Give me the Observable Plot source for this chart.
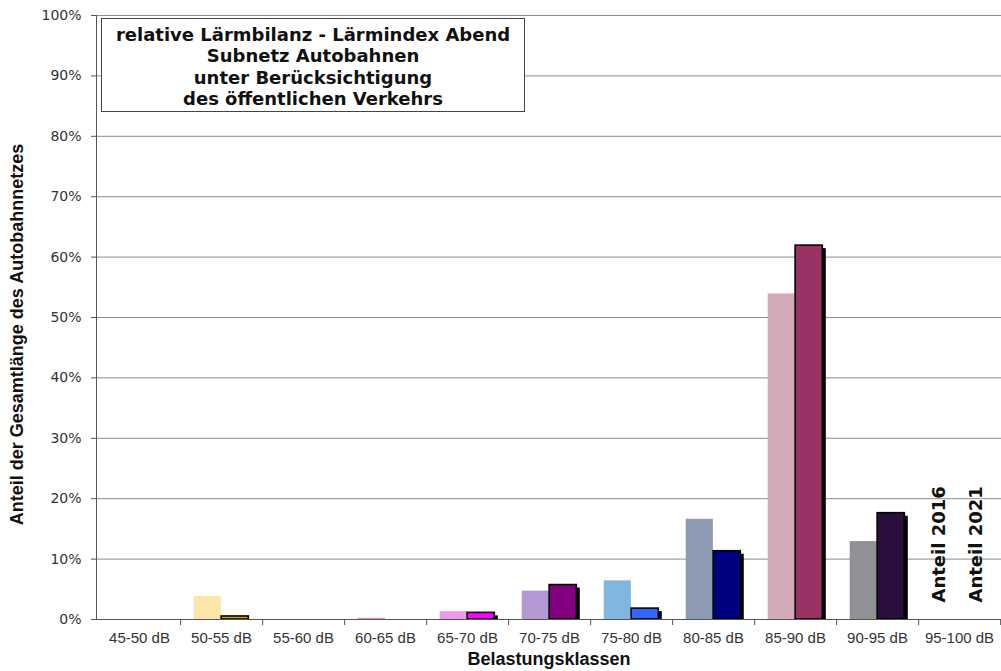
<!DOCTYPE html>
<html>
<head>
<meta charset="utf-8">
<script src="https://cdn.jsdelivr.net/npm/d3@7"></script>
<script src="https://cdn.jsdelivr.net/npm/@observablehq/plot@0.6"></script>
<style>
  body { margin: 0; background: #fff; }
  #chart { position: relative; width: 1001px; height: 671px; }
  #title {
    position: absolute; left: 101px; top: 18px; width: 422px;
    border: 1px solid #444; background: #fff; box-sizing: content-box;
    font: bold 18px "DejaVu Sans", Verdana, sans-serif; color: #111;
    text-align: center; line-height: 21.3px; padding-top: 5px; height: 87px;
  }
</style>
</head>
<body>
<div id="chart">
  <div id="title">relative Lärmbilanz - Lärmindex Abend<br>Subnetz Autobahnen<br>unter Berücksichtigung<br>des öffentlichen Verkehrs</div>
</div>
<script>
// Noise classes (Belastungsklassen) on the motorway sub-network
const categories = ["45-50 dB", "50-55 dB", "55-60 dB", "60-65 dB", "65-70 dB", "70-75 dB",
                    "75-80 dB", "80-85 dB", "85-90 dB", "90-95 dB", "95-100 dB"];
// Share of total motorway length, in percent
const share2016 = [0, 3.8, 0, 0.2, 1.3, 4.7, 6.4, 16.6, 53.9, 12.9, 0];
const share2021 = [0, 0.5, 0, 0, 1.1, 5.7, 1.8, 11.3, 61.9, 17.6, 0];
// Class colours: pale tone for 2016, saturated tone for 2021
const colors2016 = ["#f4d9a6", "#fbe6a8", "#d8d8d8", "#e39a9a", "#ee99ee", "#b399d4",
                    "#80b6df", "#8f9bb3", "#d4aaba", "#8f9195", "#d0d0d0"];
const colors2021 = ["#c08040", "#cfa800", "#999999", "#cc3333", "#ff00ff", "#800080",
                    "#3366ff", "#000080", "#993366", "#2a0e3e", "#333333"];
const yTicks = d3.range(0, 101, 10);
const legendLabels = ["Anteil 2016", "Anteil 2021"];

const rows2016 = categories.map((c, i) => ({klasse: c, anteil: share2016[i], farbe: colors2016[i]}));
const rows2021 = categories.map((c, i) => ({klasse: c, anteil: share2021[i], farbe: colors2021[i]}))
  .filter(d => d.anteil > 0);

const W = 1001, H = 671, mL = 96, mR = 0, mT = 15, mB = 52;
const bw = (W - mL - mR) / categories.length;
const lastClass = categories[categories.length - 1];

const chart = Plot.plot({
  width: W, height: H,
  marginLeft: mL, marginRight: mR, marginTop: mT, marginBottom: mB,
  style: {background: "#fff", color: "#333"},
  x: {type: "band", domain: categories, padding: 0},
  y: {domain: [0, 100]},
  marks: [
    Plot.gridY(yTicks.filter(t => t > 0), {stroke: "#8c8c8c", strokeOpacity: 1}),
    // 2016 bars: left half of the centre two-thirds of each class
    Plot.barY(rows2016, {x: "klasse", y: "anteil", fill: "farbe",
      insetLeft: bw / 6, insetRight: bw / 2}),
    // 2021 bars with a drop shadow
    Plot.barY(rows2021, {x: "klasse", y: "anteil", fill: "#000",
      insetLeft: bw / 2, insetRight: bw / 6, dx: 3.5, insetTop: 3}),
    Plot.barY(rows2021, {x: "klasse", y: "anteil", fill: "farbe",
      stroke: "#000", strokeWidth: 1.6, insetLeft: bw / 2, insetRight: bw / 6}),
    Plot.frame({anchor: "left", stroke: "#555"}),
    Plot.ruleY([0], {stroke: "#555"}),
    Plot.axisY({ticks: yTicks, tickFormat: d => d + "%", tickSize: 5, tickPadding: 10,
      fontSize: 14, fontFamily: "DejaVu Sans", stroke: "#555", fill: "#333", label: null}),
    Plot.axisX({ticks: categories, tickSize: 0, tickPadding: 13, fontSize: 15,
      fontFamily: "Liberation Sans", fill: "#333", label: null}),
    // class boundary ticks below the axis
    Plot.axisX({ticks: categories, tickSize: 6, text: null, dx: bw / 2, stroke: "#555", label: null}),
    Plot.text(["Anteil der Gesamtlänge des Autobahnnetzes"], {frameAnchor: "left", text: d => d,
      textAnchor: "middle", lineAnchor: "middle", rotate: -90, dx: -79, dy: 17, fontSize: 18,
      fontWeight: "bold", fontFamily: "Liberation Sans", fill: "#111"}),
    Plot.text(["Belastungsklassen"], {frameAnchor: "bottom", text: d => d, lineAnchor: "middle",
      dy: 40, fontSize: 18, fontWeight: "bold", fontFamily: "Liberation Sans", fill: "#111"}),
    Plot.text([legendLabels[0]], {x: () => lastClass, y: () => 0,
      text: d => d, rotate: -90, textAnchor: "start", dx: -20, dy: -17,
      fontSize: 18, fontWeight: "bold", fontFamily: "DejaVu Sans", fill: "#111"}),
    Plot.text([legendLabels[1]], {x: () => lastClass, y: () => 0,
      text: d => d, rotate: -90, textAnchor: "start", dx: 17, dy: -17,
      fontSize: 18, fontWeight: "bold", fontFamily: "DejaVu Sans", fill: "#111"})
  ]
});
document.getElementById("chart").prepend(chart);
</script>
</body>
</html>
